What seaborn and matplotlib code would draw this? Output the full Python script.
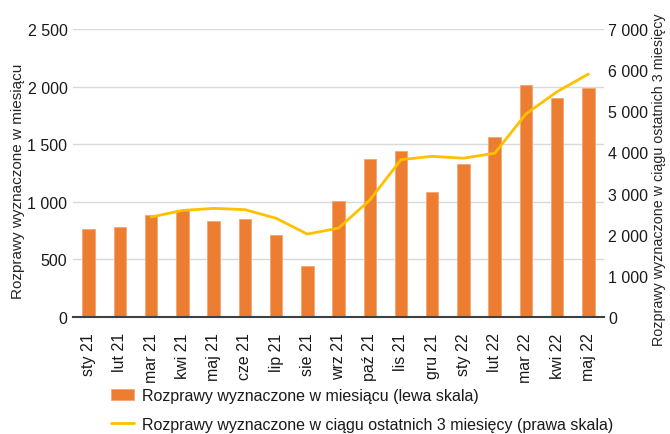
import numpy as np
import pandas as pd
import seaborn as sns
import matplotlib.pyplot as plt
from matplotlib.ticker import FuncFormatter, FixedLocator

months = ["sty 21", "lut 21", "mar 21", "kwi 21", "maj 21", "cze 21", "lip 21", "sie 21",
          "wrz 21", "paź 21", "lis 21", "gru 21", "sty 22", "lut 22", "mar 22", "kwi 22", "maj 22"]
monthly = [765, 780, 884, 925, 835, 852, 716, 446, 1009, 1374, 1440, 1085, 1330, 1563, 2010, 1904, 1986]

line_months = months[2:]
last3 = [2430, 2590, 2640, 2610, 2400, 2015, 2160, 2840, 3825, 3905, 3860, 3980, 4935, 5478, 5905]

bar_label = "Rozprawy wyznaczone w miesiącu (lewa skala)"
line_label = "Rozprawy wyznaczone w ciągu ostatnich 3 miesięcy (prawa skala)"

sns.set_style("white")
plt.rcParams["font.family"] = ["Liberation Sans", "DejaVu Sans"]
plt.rcParams["font.size"] = 11
plt.rcParams["text.color"] = "#1a1a1a"
plt.rcParams["xtick.color"] = "#1a1a1a"
plt.rcParams["ytick.color"] = "#1a1a1a"

dt_bar = pd.DataFrame({"Miesiąc": months, "Liczba": monthly})
dt_line = pd.DataFrame({"pos": [months.index(m) for m in line_months], "Suma": last3})

fig = plt.figure(figsize=(6.7, 4.35), dpi=100)
ax = fig.add_axes([0.109, 0.269, 0.7925, 0.662])

sns.barplot(x="Miesiąc", y="Liczba", data=dt_bar, color="#ED7D31", width=0.4,
            edgecolor="#F4A675", linewidth=0.6, saturation=1, label=bar_label, ax=ax)
ax.set_xlim(-0.5, len(months) - 0.5)
ax.set_ylim(0, 2500)
ax.set_yticks(np.arange(0, 2501, 500))
fmt = FuncFormatter(lambda v, p: f"{v:,.0f}".replace(",", " "))
ax.yaxis.set_major_formatter(fmt)
ax.yaxis.grid(True, color="#D9D9D9", linewidth=1)
ax.set_axisbelow(True)
ax.set_xlabel("")
ax.set_ylabel("Rozprawy wyznaczone w miesiącu", fontsize=11)
ax.yaxis.set_label_coords(-0.09, 0.476)
ax.tick_params(axis="x", which="major", length=0, pad=11, rotation=90, labelsize=11.5)
ax.xaxis.set_minor_locator(FixedLocator(np.arange(-0.5, len(months), 1)))
ax.tick_params(axis="x", which="minor", length=6, width=1.2, color="#404040", direction="out")
ax.tick_params(axis="y", length=0, pad=4, labelsize=11.5)
for s in ["top", "right", "left"]:
    ax.spines[s].set_visible(False)
ax.spines["bottom"].set_color("#404040")
ax.spines["bottom"].set_linewidth(1.5)

ax2 = ax.twinx()
sns.lineplot(x="pos", y="Suma", data=dt_line, color="#FFC000", linewidth=2.0,
             label=line_label, legend=False, ax=ax2)
ax2.set_ylim(0, 7000)
ax2.set_yticks(np.arange(0, 7001, 1000))
ax2.yaxis.set_major_formatter(fmt)
ax2.set_ylabel("Rozprawy wyznaczone w ciągu ostatnich 3 miesięcy", fontsize=10.3)
ax2.yaxis.set_label_coords(1.091, 0.479)
ax2.tick_params(axis="y", length=0, pad=3, labelsize=11.5)
for s in ["top", "right", "left", "bottom"]:
    ax2.spines[s].set_visible(False)
ax2.set_xlim(-0.5, len(months) - 0.5)

h1, l1 = ax.get_legend_handles_labels()
h2, l2 = ax2.get_legend_handles_labels()
if ax.legend_:
    ax.legend_.remove()
fig.legend(h1 + h2, l1 + l2, loc="upper left", bbox_to_anchor=(0.166, 0.105),
           frameon=False, handlelength=1.45, handletextpad=0.45, labelspacing=0.85,
           borderaxespad=0, borderpad=0, fontsize=11.5)

fig.savefig("out.png", dpi=100)
